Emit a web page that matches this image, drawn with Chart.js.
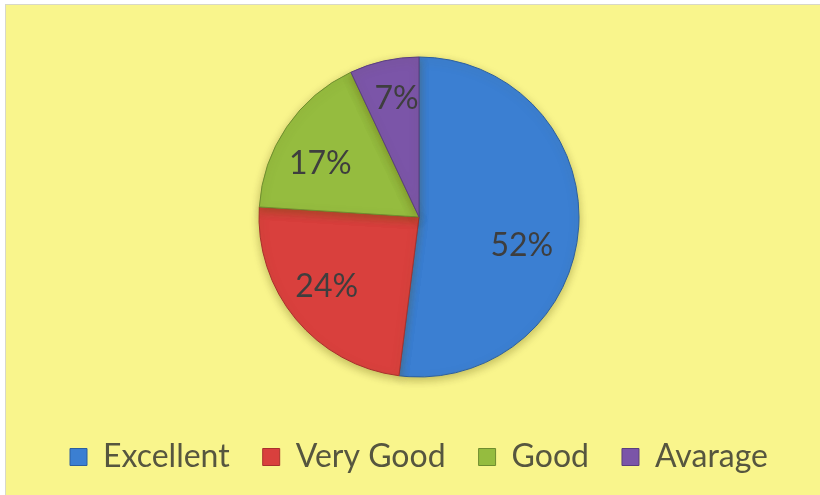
<!DOCTYPE html>
<html>
<head>
<meta charset="utf-8">
<script src="https://cdn.jsdelivr.net/npm/chart.js@4"></script>
<style>
  html, body { margin: 0; padding: 0; background: #ffffff; }
  #frame {
    position: absolute; left: 5px; top: 4px;
    width: 814px; height: 490px;
    background: #f9f58c;
    border-left: 1px solid #d8d8c8;
    border-top: 1px solid #d8d8c8;
  }
  canvas { display: block; }
</style>
</head>
<body>
<div id="frame"><canvas id="pie" width="814" height="490"></canvas></div>
<script>
'use strict';

// ── Data ──────────────────────────────────────────────────────────────────────
const categories = ['Excellent', 'Very Good', 'Good', 'Avarage'];
const shares     = [52, 24, 17, 7];
const colours    = ['#3b7fd2', '#d9403d', '#95bc3f', '#7b55a8'];
const edges      = ['#2c5f9e', '#a8302d', '#6f8d2f', '#5a3e7e'];

// ── Percent labels inside the slices (no datalabels plugin offline) ──────────
const sliceLabels = {
    id: 'sliceLabels',
    afterDatasetsDraw(chart, args, opts) {
        const { ctx } = chart;
        const meta = chart.getDatasetMeta(0);
        const nudge = opts.nudge || [];
        ctx.save();
        ctx.font = '32px Lato, "Open Sans", sans-serif';
        ctx.fillStyle = '#3e3e3e';
        ctx.textAlign = 'center';
        ctx.textBaseline = 'middle';
        meta.data.forEach((arc, i) => {
            const { x, y, startAngle, endAngle, outerRadius } =
                arc.getProps(['x', 'y', 'startAngle', 'endAngle', 'outerRadius'], true);
            const mid = (startAngle + endAngle) / 2;
            const d   = outerRadius * 0.7;
            const [nx, ny] = nudge[i] || [0, 0];   // Excel "best fit" drift
            ctx.fillText(shares[i] + '%',
                x + Math.cos(mid) * d + nx,
                y + Math.sin(mid) * d + ny);
        });
        ctx.restore();
    }
};

// soft drop shadow under the pie, like the Excel effect
const pieShadow = {
    id: 'pieShadow',
    beforeDatasetsDraw(chart) {
        const { ctx } = chart;
        ctx.save();
        ctx.shadowColor = 'rgba(90, 80, 0, 0.35)';
        ctx.shadowBlur = 8;
        ctx.shadowOffsetY = 3;
    },
    afterDatasetsDraw(chart) {
        chart.ctx.restore();
    }
};

new Chart(document.getElementById('pie'), {
    type: 'pie',
    data: {
        labels: categories,
        datasets: [{
            data: shares,
            backgroundColor: colours,
            borderColor: edges,
            borderWidth: 1,
            radius: 160
        }]
    },
    options: {
        responsive: false,
        animation: false,
        layout: { padding: { top: 21, left: 12, right: 0, bottom: 12 } },
        plugins: {
            tooltip: { enabled: false },
            sliceLabels: { nudge: [[-9, 22], [-6, -2], [-6, 10], [2, -9]] },
            legend: {
                position: 'bottom',
                labels: {
                    usePointStyle: true,
                    pointStyle: 'rect',
                    boxWidth: 17,
                    boxHeight: 17,
                    padding: 33,
                    color: '#56563f',
                    font: { family: 'Lato, "Open Sans", sans-serif', size: 32 }
                }
            }
        }
    },
    plugins: [pieShadow, sliceLabels]
});
</script>
</body>
</html>
